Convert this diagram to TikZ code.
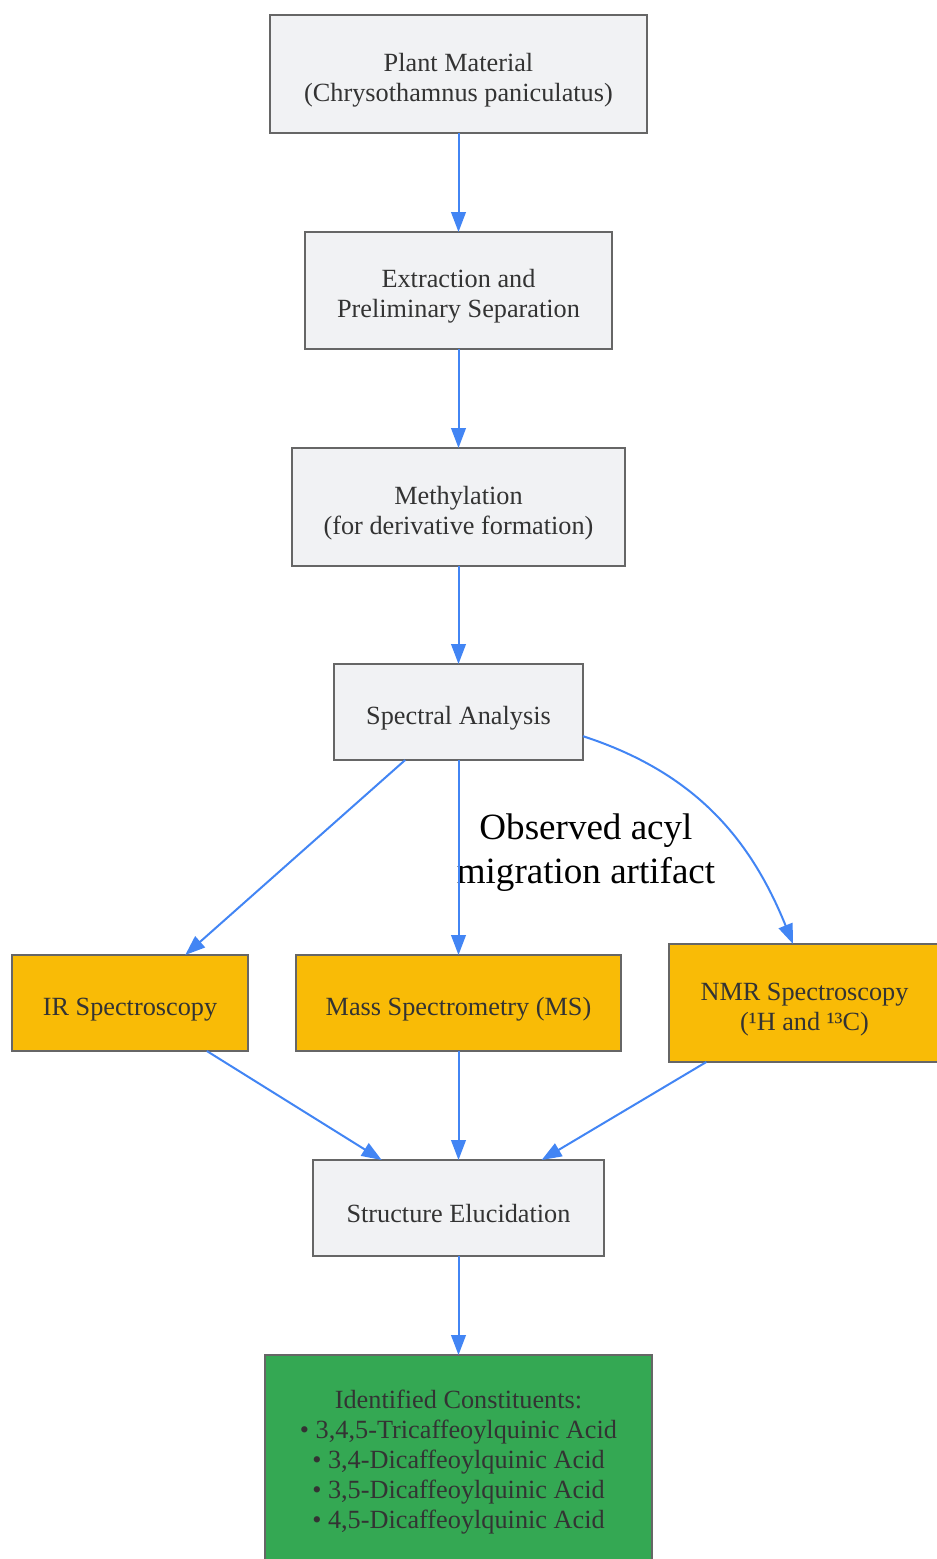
\documentclass[tikz,border=0pt]{standalone}
\usepackage{fontspec}
\setmainfont{Liberation Serif}
\usetikzlibrary{arrows.meta,positioning}
\definecolor{flowblue}{RGB}{66, 133, 244}
\definecolor{flowgreen}{RGB}{52, 168, 83}
\definecolor{flowyellow}{RGB}{249, 187, 6}
\definecolor{boxgray}{RGB}{241, 242, 244}
\definecolor{edgegray}{RGB}{102, 102, 102}
\definecolor{textgray}{RGB}{51, 51, 51}
% pushes the text of a box a little below its centre
\newcommand\padtop{\rule{0pt}{22.5pt}}

\begin{document}
\begin{tikzpicture}[x=0.75pt, y=-0.75pt,
		% Node styles
		process/.style={draw=edgegray, fill=boxgray, text=textgray, line width=1.5pt,
				inner sep=0pt, outer sep=0pt, align=center, font=\fontsize{19.7}{22.5}\selectfont},
		method/.style={process, fill=flowyellow},
		result/.style={process, fill=flowgreen},
		note/.style={text=black, align=center, font=\fontsize{27.8}{33}\selectfont},
		flow/.style={-{Triangle[length=15pt, width=11pt]}, draw=flowblue, line width=1.5pt},
	]

	\useasboundingbox (0,0) rectangle (937,1559);

	% Main chain, top to bottom
	\node[process, minimum width=282.75pt, minimum height=88.5pt] (plant) at (458.5,74)
		{\padtop Plant Material\\(Chrysothamnus paniculatus)};
	\node[process, minimum width=230.25pt, minimum height=87.75pt] (extraction) [below=74.25pt of plant]
		{\padtop Extraction and\\Preliminary Separation};
	\node[process, minimum width=249.75pt, minimum height=88.5pt] (methylation) [below=74.25pt of extraction]
		{\padtop Methylation\\(for derivative formation)};
	\node[process, minimum width=186.75pt, minimum height=72pt] (spectral) [below=73.5pt of methylation]
		{\padtop Spectral Analysis};

	% Spectroscopy methods in one row
	\node[method, minimum width=243.75pt, minimum height=72pt] (ms) [below=146.25pt of spectral]
		{\padtop Mass Spectrometry (MS)};
	\node[method, minimum width=177pt, minimum height=72pt] (ir) [left=36pt of ms]
		{\padtop IR Spectroscopy};
	\node[method, minimum width=203.25pt, minimum height=88.5pt] (nmr) [right=36pt of ms]
		{\padtop NMR Spectroscopy\\(¹H and ¹³C)};

	\node[process, minimum width=218.25pt, minimum height=72pt] (structure) [below=81.75pt of ms]
		{\padtop Structure Elucidation};
	\node[result, minimum width=290.25pt, minimum height=160.5pt] (constituents) [below=74.25pt of structure]
		{Identified Constituents:\\• 3,4,5-Tricaffeoylquinic Acid\\• 3,4-Dicaffeoylquinic Acid\\
			• 3,5-Dicaffeoylquinic Acid\\• 4,5-Dicaffeoylquinic Acid};

	\node[note] (artifact) at (586,853) {Observed acyl\\migration artifact};

	% Connections
	\draw[flow] (plant) -- (extraction);
	\draw[flow] (extraction) -- (methylation);
	\draw[flow] (methylation) -- (spectral);

	\draw[flow] (spectral.-138.1) -- (ir.41.1);
	\draw[flow] (spectral) -- (ms);
	\draw[flow] (spectral.-11.4) to[out=-18, in=112] (nmr.101);

	\draw[flow] (ir.-32) -- (structure.148.2);
	\draw[flow] (ms) -- (structure);
	\draw[flow] (nmr.-149.1) -- (structure.30.2);

	\draw[flow] (structure) -- (constituents);

\end{tikzpicture}
\end{document}
